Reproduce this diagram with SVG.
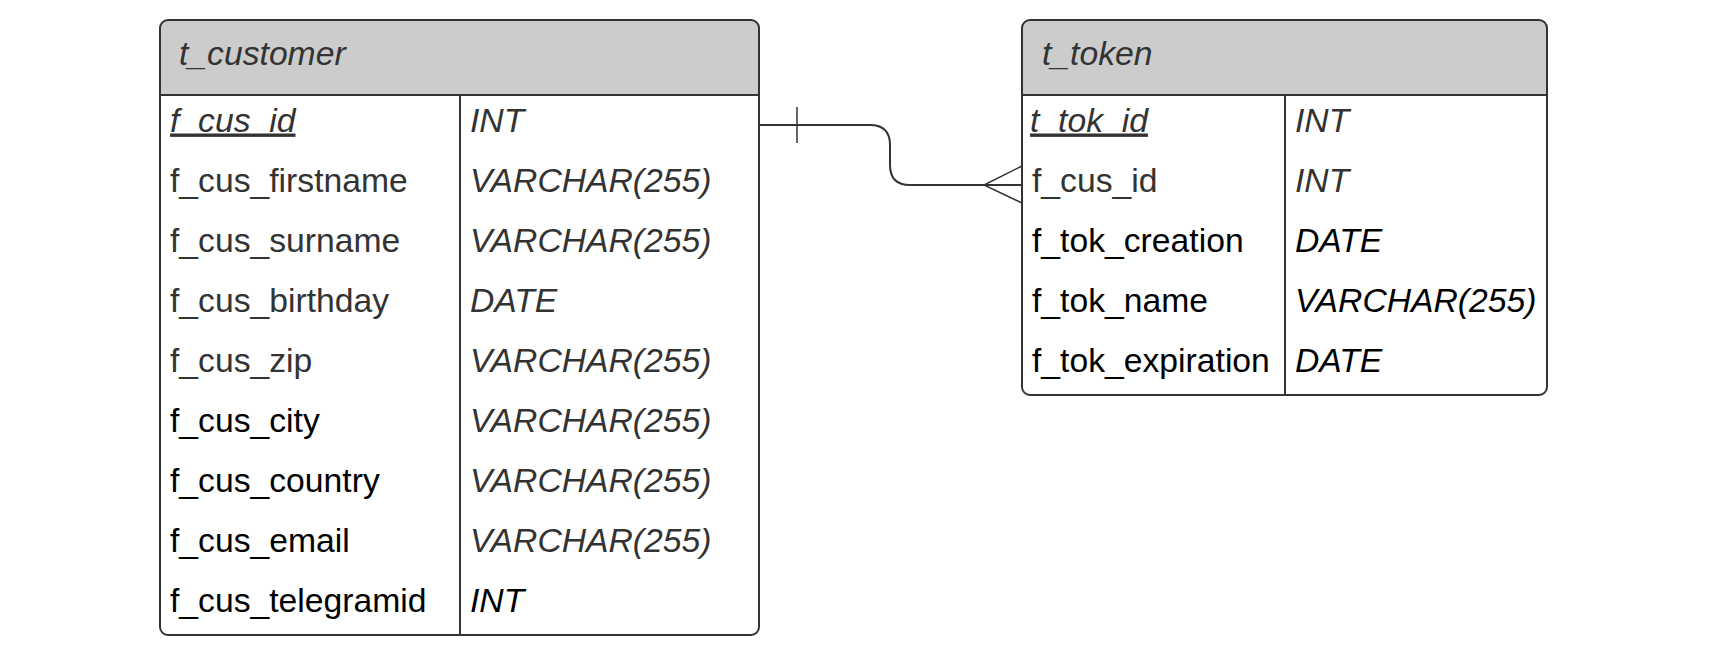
<svg xmlns="http://www.w3.org/2000/svg" width="1720" height="658" viewBox="0 0 1720 658">
<style>
  .box{fill:none;stroke:#333333;stroke-width:2}
  .hdr{fill:#cccccc}
  .ln{stroke:#333333;stroke-width:2;fill:none}
  text{font-family:"Liberation Sans",Arial,sans-serif;font-size:33.7px}
  .t{font-style:italic;fill:#333333}
  .g{fill:#333333}
  .k{fill:#000000}
  .i{font-style:italic}
  .pk{font-style:italic;text-decoration:underline;fill:#333333}
  .conn{stroke:#333333;stroke-width:2;fill:none}
  .tick{stroke:#333333;stroke-width:1.5;fill:none}
</style>
<rect width="1720" height="658" fill="#ffffff"/>

<g id="t_customer">
  <path class="hdr" d="M160,95 V28 Q160,20 168,20 H751 Q759,20 759,28 V95 Z"/>
  <rect class="box" x="160" y="20" width="599" height="615" rx="8" ry="8"/>
  <line class="ln" x1="160" y1="95" x2="759" y2="95"/>
  <line class="ln" x1="460" y1="95" x2="460" y2="635"/>
  <text class="t" x="179" y="65">t_customer</text>
  <text class="pk" x="170" y="131.5">f_cus_id</text>
  <text class="g i" x="470" y="131.5">INT</text>
  <text class="g" x="170" y="191.5">f_cus_firstname</text>
  <text class="g i" x="470" y="191.5">VARCHAR(255)</text>
  <text class="g" x="170" y="251.5">f_cus_surname</text>
  <text class="g i" x="470" y="251.5">VARCHAR(255)</text>
  <text class="g" x="170" y="311.5">f_cus_birthday</text>
  <text class="g i" x="470" y="311.5">DATE</text>
  <text class="g" x="170" y="371.5">f_cus_zip</text>
  <text class="g i" x="470" y="371.5">VARCHAR(255)</text>
  <text class="k" x="170" y="431.5">f_cus_city</text>
  <text class="g i" x="470" y="431.5">VARCHAR(255)</text>
  <text class="k" x="170" y="491.5">f_cus_country</text>
  <text class="g i" x="470" y="491.5">VARCHAR(255)</text>
  <text class="k" x="170" y="551.5">f_cus_email</text>
  <text class="g i" x="470" y="551.5">VARCHAR(255)</text>
  <text class="k" x="170" y="611.5">f_cus_telegramid</text>
  <text class="k i" x="470" y="611.5">INT</text>
</g>

<g id="t_token">
  <path class="hdr" d="M1022,95 V28 Q1022,20 1030,20 H1539 Q1547,20 1547,28 V95 Z"/>
  <rect class="box" x="1022" y="20" width="525" height="375" rx="8" ry="8"/>
  <line class="ln" x1="1022" y1="95" x2="1547" y2="95"/>
  <line class="ln" x1="1285" y1="95" x2="1285" y2="395"/>
  <text class="t" x="1042" y="65">t_token</text>
  <text class="pk" x="1030" y="131.5">t_tok_id</text>
  <text class="g i" x="1295" y="131.5">INT</text>
  <text class="g" x="1032" y="191.5">f_cus_id</text>
  <text class="g i" x="1295" y="191.5">INT</text>
  <text class="k" x="1032" y="251.5">f_tok_creation</text>
  <text class="k i" x="1295" y="251.5">DATE</text>
  <text class="k" x="1032" y="311.5">f_tok_name</text>
  <text class="k i" x="1295" y="311.5">VARCHAR(255)</text>
  <text class="k" x="1032" y="371.5">f_tok_expiration</text>
  <text class="k i" x="1295" y="371.5">DATE</text>
</g>

<g id="connectors">
  <path class="conn" d="M759,125 H870 Q890,125 890,145 V165 Q890,185 910,185 H1022"/>
  <line class="tick" x1="797" y1="107" x2="797" y2="143"/>
  <path class="tick" d="M1022,166 L984,185 L1022,203"/>
</g>
</svg>
